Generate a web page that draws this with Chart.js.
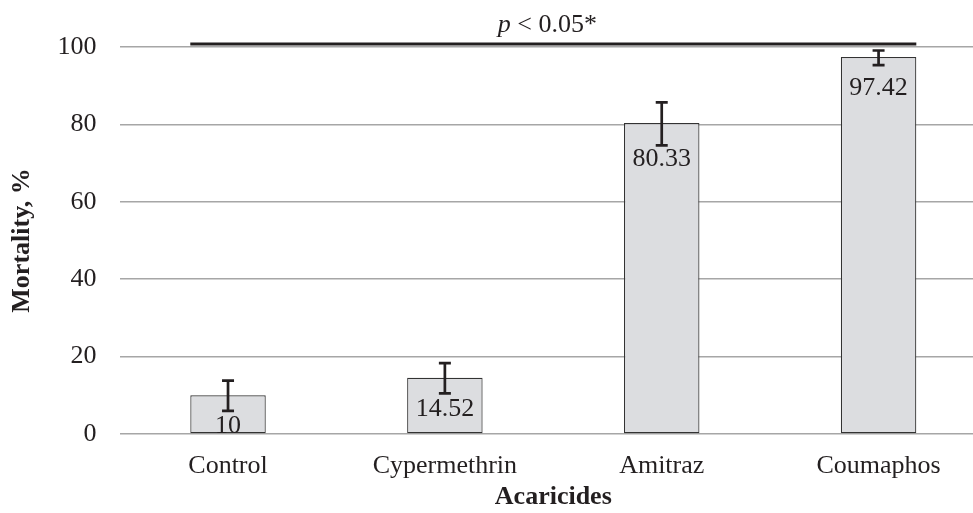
<!DOCTYPE html>
<html>
<head>
<meta charset="utf-8">
<script src="https://cdn.jsdelivr.net/npm/chart.js@4"></script>
<style>
  html, body { margin: 0; padding: 0; background: #fff; overflow: hidden; }
  #wrap { width: 1000px; height: 513px; position: relative; }
</style>
</head>
<body>
<div id="wrap"><canvas id="c"></canvas></div>
<script>
const categories = ['Control', 'Cypermethrin', 'Amitraz', 'Coumaphos'];
const mortality = [10, 14.52, 80.33, 97.42];
const mortalityLabels = ['10', '14.52', '80.33', '97.42'];
const errLow = [6.0, 10.5, 74.6, 95.3];
const errHigh = [13.8, 18.3, 85.7, 99.1];
const yTicks = [0, 20, 40, 60, 80, 100];
const sigText = ['p', ' < 0.05*'];
const sigLevel = 100.8;

const FONT = 'Liberation Serif';
const INK = '#231f20';

const errorBars = {
  id: 'errorBars',
  afterDatasetsDraw(chart) {
    const ctx = chart.ctx;
    const meta = chart.getDatasetMeta(0);
    const y = chart.scales.y;
    ctx.save();
    ctx.strokeStyle = INK;
    ctx.lineWidth = 2.7;
    meta.data.forEach((bar, i) => {
      const yl = y.getPixelForValue(errLow[i]);
      const yh = y.getPixelForValue(errHigh[i]);
      const x = bar.x;
      ctx.beginPath();
      ctx.moveTo(x, yl); ctx.lineTo(x, yh);
      ctx.moveTo(x - 6, yl); ctx.lineTo(x + 6, yl);
      ctx.moveTo(x - 6, yh); ctx.lineTo(x + 6, yh);
      ctx.stroke();
    });
    // value labels
    ctx.fillStyle = INK;
    ctx.font = '26px "' + FONT + '"';
    ctx.textAlign = 'center';
    ctx.textBaseline = 'middle';
    meta.data.forEach((bar, i) => {
      const yl = y.getPixelForValue(errLow[i]);
      const cy = Math.max(bar.y + 31, yl + 14);
      ctx.fillText(mortalityLabels[i], bar.x, cy);
    });
    // significance line
    const first = meta.data[0], last = meta.data[meta.data.length - 1];
    const x0 = first.x - first.width / 2;
    const x1 = last.x + last.width / 2;
    const ly = y.getPixelForValue(sigLevel);
    ctx.lineWidth = 3;
    ctx.beginPath();
    ctx.moveTo(x0, ly); ctx.lineTo(x1, ly);
    ctx.stroke();
    ctx.textAlign = 'left';
    ctx.textBaseline = 'alphabetic';
    const fItal = 'italic 26px "' + FONT + '"';
    const fReg = '26px "' + FONT + '"';
    ctx.font = fItal; const w1 = ctx.measureText(sigText[0]).width;
    ctx.font = fReg; const w2 = ctx.measureText(sigText[1]).width;
    const sx = (x0 + x1) / 2 - (w1 + w2) / 2 - 6;
    ctx.font = fItal; ctx.fillText(sigText[0], sx, ly - 12);
    ctx.font = fReg; ctx.fillText(sigText[1], sx + w1, ly - 12);
    ctx.restore();
  }
};

new Chart(document.getElementById('c'), {
  type: 'bar',
  data: {
    labels: categories,
    datasets: [{
      data: mortality,
      backgroundColor: '#dcdde0',
      borderColor: '#333333',
      borderWidth: 1.2,
      borderSkipped: false,
      categoryPercentage: 1,
      barPercentage: 0.348
    }]
  },
  options: {
    responsive: true,
    maintainAspectRatio: false,
    animation: false,
    layout: { padding: { top: 47, right: 13, bottom: 0, left: 0 } },
    plugins: { legend: { display: false }, tooltip: { enabled: false } },
    scales: {
      x: {
        grid: { display: false, drawTicks: false },
        border: { display: false },
        ticks: { color: INK, font: { family: FONT, size: 26 }, padding: 17 },
        title: { display: true, text: 'Acaricides', color: INK, font: { family: FONT, size: 26, weight: 'bold' }, padding: { top: 0, bottom: 0 } },
        afterFit(s) { s.height = 79; }
      },
      y: {
        min: 0, max: 100,
        afterBuildTicks(s) { s.ticks = yTicks.map(v => ({ value: v })); },
        grid: { color: '#a6a6a6', lineWidth: 1.5, drawTicks: false },
        border: { display: false },
        ticks: { color: INK, font: { family: FONT, size: 26 }, padding: 23 },
        title: { display: true, text: 'Mortality, %', color: INK, font: { family: FONT, size: 26, weight: 'bold' }, padding: { top: 7, bottom: 0 } },
        afterFit(s) { s.width = 119.6; }
      }
    }
  },
  plugins: [errorBars]
});
</script>
</body>
</html>
